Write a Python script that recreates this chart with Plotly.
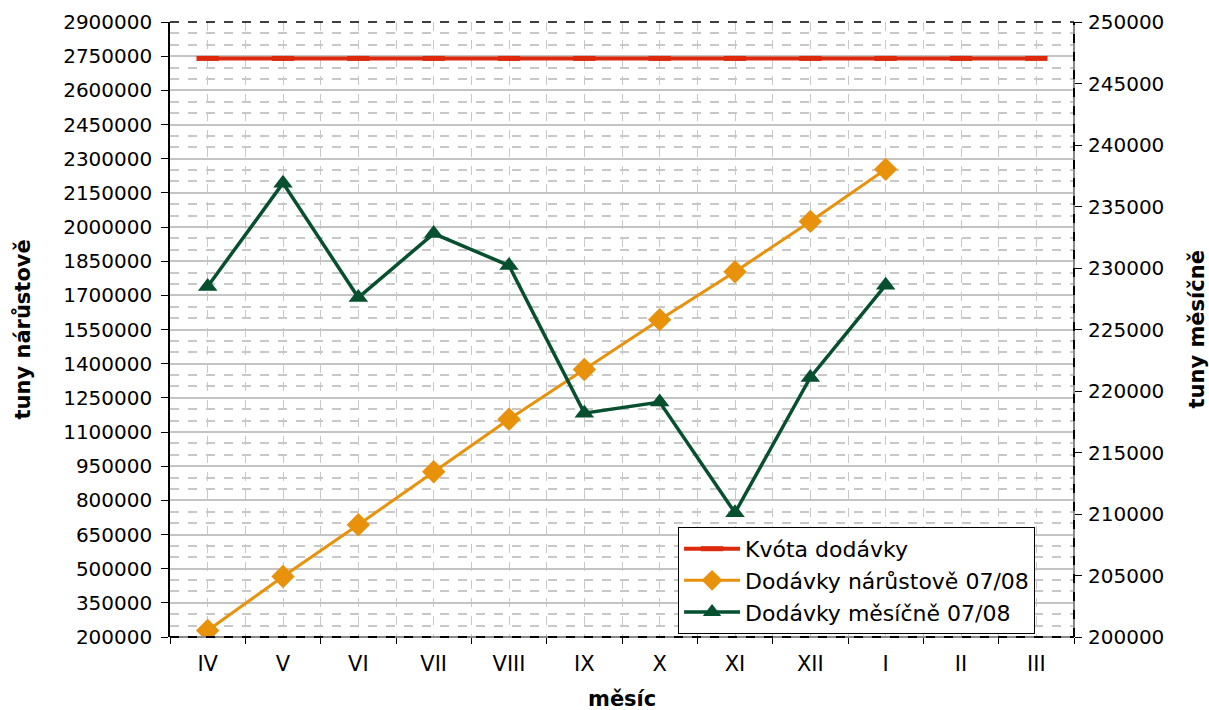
import plotly.graph_objects as go

months = ["IV", "V", "VI", "VII", "VIII", "IX", "X", "XI", "XII", "I", "II", "III"]
quota = [2740000] * 12
cumulative = [228500, 465400, 693000, 925800, 1156000, 1374200, 1593300, 1803400, 2024500, 2253100]
monthly = [228500, 236900, 227600, 232800, 230200, 218200, 219100, 210100, 221100, 228600]

left_ticks = list(range(200000, 2900001, 150000))
right_ticks = list(range(200000, 250001, 5000))

x_all = list(range(len(months)))
FONT = "DejaVu Sans"
RED = "#dd2a0c"
ORANGE = "#e8920c"
GREEN = "#06502f"

fig = go.Figure()
fig.add_trace(go.Scatter(
    x=x_all, y=quota, name="Kvóta dodávky", mode="lines+markers",
    line=dict(color=RED, width=4),
    marker=dict(symbol="line-ew", size=16, line=dict(color=RED, width=5)),
))
fig.add_trace(go.Scatter(
    x=x_all[:len(cumulative)], y=cumulative, name="Dodávky nárůstově 07/08",
    mode="lines+markers", line=dict(color=ORANGE, width=3),
    marker=dict(symbol="diamond", size=18, color=ORANGE),
))
fig.add_trace(go.Scatter(
    x=x_all[:len(monthly)], y=monthly, name="Dodávky měsíčně 07/08",
    mode="lines+markers", line=dict(color=GREEN, width=3.5),
    marker=dict(symbol="triangle-up", size=17, color=GREEN),
    yaxis="y2",
))

boundaries = [i - 0.5 for i in range(len(months) + 1)]

fig.update_layout(
    width=1209, height=710,
    margin=dict(l=170, r=135, t=22, b=73),
    paper_bgcolor="white", plot_bgcolor="white",
    font=dict(family=FONT, size=20, color="black"),
    showlegend=True,
    legend=dict(
        x=0.562, y=0.179, xanchor="left", yanchor="top",
        bgcolor="white", bordercolor="black", borderwidth=1,
        font=dict(family=FONT, size=22), tracegroupgap=0,
        itemwidth=56,
    ),
    xaxis=dict(
        range=[-0.5, len(months) - 0.5], automargin=False,
        tickvals=x_all, ticktext=months, ticks="",
        showgrid=True, gridcolor="#c8c8c8", griddash="dash", gridwidth=1,
        minor=dict(tickvals=boundaries, ticks="outside", ticklen=6,
                   tickcolor="black", showgrid=True, gridcolor="#c8c8c8",
                   griddash="dash"),
        showline=False, zeroline=False,
        tickfont=dict(family=FONT, size=21),
        ticklabelstandoff=12,
    ),
    xaxis2=dict(
        overlaying="x", matches="x", anchor="y", automargin=False,
        range=[-0.5, len(months) - 0.5],
        tickvals=boundaries, ticktext=[""] * len(boundaries),
        ticks="inside", ticklen=6, tickcolor="black",
        showgrid=False, showline=False, zeroline=False, side="bottom",
    ),
    yaxis=dict(
        range=[200000, 2900000], tickvals=left_ticks, automargin=False,
        ticktext=[str(v) for v in left_ticks],
        ticks="outside", ticklen=7, tickcolor="black",
        showgrid=True, gridcolor="#c4c4c4", gridwidth=1.5,
        minor=dict(dtick=50000, tick0=200000, showgrid=True,
                   gridcolor="#c8c8c8", griddash="dash", ticks=""),
        showline=True, linecolor="black", linewidth=1.5,
        zeroline=False, ticklabelstandoff=5,
        tickfont=dict(family=FONT, size=20),
    ),
    yaxis2=dict(
        overlaying="y", side="right", anchor="x", automargin=False,
        range=[200000, 250000], tickvals=right_ticks,
        ticktext=[str(v) for v in right_ticks],
        ticks="outside", ticklen=7, tickcolor="black",
        showgrid=False, showline=False, zeroline=False,
        ticklabelstandoff=2,
        tickfont=dict(family=FONT, size=20),
    ),
    shapes=[
        dict(type="line", xref="paper", yref="paper", x0=0, x1=1, y0=1, y1=1,
             line=dict(color="black", width=1.5, dash="dash"), layer="above"),
        dict(type="line", xref="paper", yref="paper", x0=0, x1=1, y0=0, y1=0,
             line=dict(color="#888888", width=2), layer="above"),
        dict(type="line", xref="paper", yref="paper", x0=0, x1=1, y0=0, y1=0,
             line=dict(color="black", width=2, dash="dash"), layer="above"),
        dict(type="line", xref="paper", yref="paper", x0=1, x1=1, y0=0, y1=1,
             line=dict(color="#888888", width=2), layer="above"),
        dict(type="line", xref="paper", yref="paper", x0=1, x1=1, y0=0, y1=1,
             line=dict(color="black", width=2, dash="dash"), layer="above"),
    ],
    annotations=[
        dict(text="<b>tuny nárůstově</b>", xref="paper", yref="paper",
             x=0, y=0.5, xshift=-148, xanchor="center", yanchor="middle",
             textangle=-90, showarrow=False,
             font=dict(family=FONT, size=21)),
        dict(text="<b>tuny měsíčně</b>", xref="paper", yref="paper",
             x=1, y=0.5, xshift=122, xanchor="center", yanchor="middle",
             textangle=-90, showarrow=False,
             font=dict(family=FONT, size=21)),
        dict(text="<b>měsíc</b>", xref="paper", yref="paper",
             x=0.5, y=0, yshift=-62, xanchor="center", yanchor="middle",
             showarrow=False,
             font=dict(family=FONT, size=21)),
    ],
)

fig.write_html(
    "out.html",
    config={"displayModeBar": False},
    post_script="document.body.style.margin='0px';document.body.style.overflow='hidden';",
)
